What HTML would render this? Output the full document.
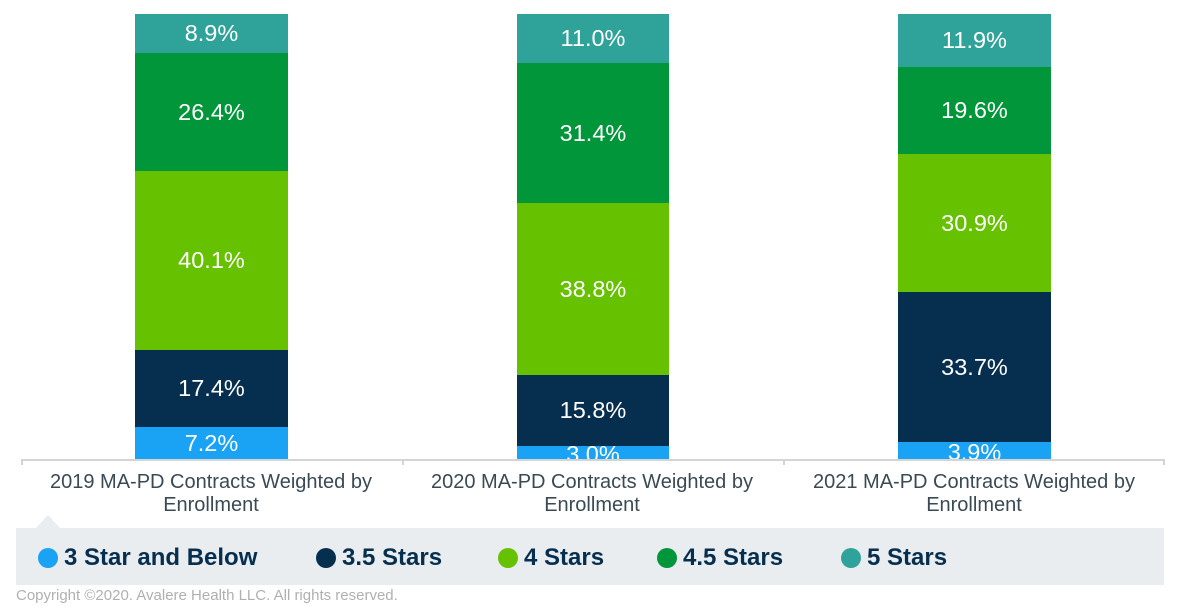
<!DOCTYPE html>
<html><head><meta charset="utf-8"><style>
body{margin:0;width:1181px;height:610px;background:#fff;font-family:"Liberation Sans",Arial,sans-serif;position:relative;overflow:hidden}
.s{position:absolute;color:#fff;font-size:23.5px;display:flex;align-items:center;justify-content:center;overflow:hidden}
.cat{position:absolute;width:380px;text-align:center;font-size:20px;line-height:23px;color:#3a4a55;top:471px}
.leg{position:absolute;left:16px;top:528px;width:1148px;height:57px;background:#e9edf0}
.li{position:absolute;top:16px;font-size:24px;font-weight:bold;color:#062f4f;display:flex;align-items:center}
.li i{display:inline-block;width:20px;height:20px;border-radius:50%;margin-right:6px}
</style></head><body>
<div class="s" style="left:135px;width:153px;top:14px;height:39px;background:#2fa39a">8.9%</div>
<div class="s" style="left:135px;width:153px;top:53px;height:118px;background:#009639">26.4%</div>
<div class="s" style="left:135px;width:153px;top:171px;height:179px;background:#66c100">40.1%</div>
<div class="s" style="left:135px;width:153px;top:350px;height:77px;background:#062f4f">17.4%</div>
<div class="s" style="left:135px;width:153px;top:427px;height:32px;background:#1aa3f5">7.2%</div>
<div class="s" style="left:517px;width:152px;top:14px;height:49px;background:#2fa39a">11.0%</div>
<div class="s" style="left:517px;width:152px;top:63px;height:140px;background:#009639">31.4%</div>
<div class="s" style="left:517px;width:152px;top:203px;height:172px;background:#66c100">38.8%</div>
<div class="s" style="left:517px;width:152px;top:375px;height:71px;background:#062f4f">15.8%</div>
<div class="s" style="left:517px;width:152px;top:446px;height:13px;background:#1aa3f5;align-items:flex-start"><span style="margin-top:-5px">3.0%</span></div>
<div class="s" style="left:898px;width:153px;top:14px;height:53px;background:#2fa39a">11.9%</div>
<div class="s" style="left:898px;width:153px;top:67px;height:87px;background:#009639">19.6%</div>
<div class="s" style="left:898px;width:153px;top:154px;height:138px;background:#66c100">30.9%</div>
<div class="s" style="left:898px;width:153px;top:292px;height:150px;background:#062f4f">33.7%</div>
<div class="s" style="left:898px;width:153px;top:442px;height:17px;background:#1aa3f5;align-items:flex-start"><span style="margin-top:-3px">3.9%</span></div>
<div style="position:absolute;left:21px;top:459px;width:1144px;height:2px;background:#d4d4d4"></div>
<div style="position:absolute;left:21px;top:459px;width:2px;height:6px;background:#d4d4d4"></div>
<div style="position:absolute;left:402px;top:459px;width:2px;height:6px;background:#d4d4d4"></div>
<div style="position:absolute;left:783px;top:459px;width:2px;height:6px;background:#d4d4d4"></div>
<div style="position:absolute;left:1163px;top:459px;width:2px;height:6px;background:#d4d4d4"></div>
<div class="cat" style="left:21px">2019 MA-PD Contracts Weighted by<br>Enrollment</div>
<div class="cat" style="left:402px">2020 MA-PD Contracts Weighted by<br>Enrollment</div>
<div class="cat" style="left:784px">2021 MA-PD Contracts Weighted by<br>Enrollment</div>
<div style="position:absolute;left:36px;top:515px;width:0;height:0;border-left:12px solid transparent;border-right:12px solid transparent;border-bottom:13px solid #e9edf0"></div>
<div class="leg">
<div class="li" style="left:22px"><i style="background:#1aa3f5"></i>3 Star and Below</div>
<div class="li" style="left:300px"><i style="background:#062f4f"></i>3.5 Stars</div>
<div class="li" style="left:482px"><i style="background:#66c100"></i>4 Stars</div>
<div class="li" style="left:641px"><i style="background:#009639"></i>4.5 Stars</div>
<div class="li" style="left:825px"><i style="background:#2fa39a"></i>5 Stars</div>
</div>
<div style="position:absolute;left:16px;top:587px;font-size:15px;color:#b0b0b0">Copyright ©2020. Avalere Health LLC. All rights reserved.</div>
</body></html>
